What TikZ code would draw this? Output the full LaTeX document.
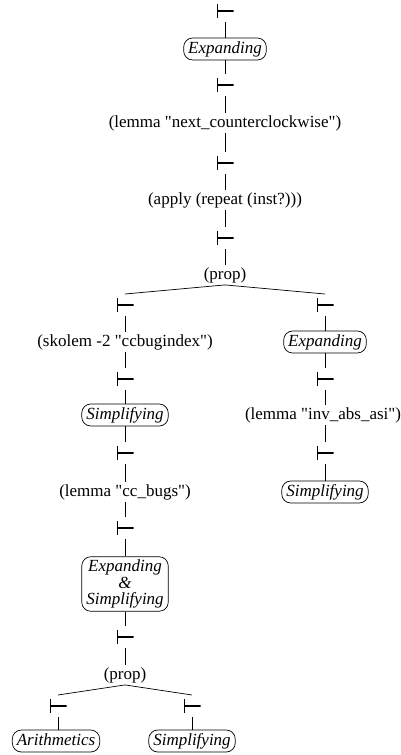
\documentclass[tikz,border=0pt]{standalone}
\usepackage{fontspec}
\newfontfamily\pvsfam{Liberation Serif}
\newcommand{\pvsfont}{\pvsfam\fontsize{17}{16.5}\selectfont}
\tikzset{
  turn/.style={minimum width=17pt,minimum height=14pt,inner sep=0pt,outer sep=4pt,
    path picture={\draw[line width=1.5pt]
      ([xshift=.75pt]path picture bounding box.north west) -- ([xshift=.75pt]path picture bounding box.south west)
      ([xshift=.75pt]path picture bounding box.west) -- (path picture bounding box.east);}},
  cmd/.style={inner sep=2pt,font=\pvsfont},
  strat/.style={draw,line width=.7pt,rounded corners=9pt,inner xsep=4.5pt,inner ysep=3pt,font=\pvsfont\itshape,align=center},
  stratl/.style={strat,text height=12pt,text depth=4pt}
}
\begin{document}
\begin{tikzpicture}[x=1pt,y=-1pt]
\useasboundingbox (0,0) rectangle (401,755);
\node[turn]   (t0)  at (225,11)  {};
\node[stratl] (e0)  at (225,49)  {Expanding};
\node[turn]   (t1)  at (225,85)  {};
\node[cmd]    (c1)  at (225,123) {(lemma "next\_counterclockwise")};
\node[turn]   (t2)  at (225,163) {};
\node[cmd]    (c2)  at (225,200) {(apply (repeat (inst?)))};
\node[turn]   (t3)  at (225,238) {};
\node[cmd]    (c3)  at (225,275) {(prop)};
\node[turn]   (t4)  at (125,305) {};
\node[cmd]    (c4)  at (125,342) {(skolem -2 "ccbugindex")};
\node[turn]   (t5)  at (125,379) {};
\node[stratl] (s1)  at (125,415) {Simplifying};
\node[turn]   (t6)  at (125,453) {};
\node[cmd]    (c5)  at (125,492) {(lemma "cc\_bugs")};
\node[turn]   (t7)  at (125,528) {};
\node[strat]  (es)  at (125,584) {Expanding\\\&\\Simplifying};
\node[turn]   (t8)  at (125,637) {};
\node[cmd]    (c6)  at (125,675) {(prop)};
\node[turn]   (t9)  at (58,706)  {};
\node[stratl] (ar)  at (56,741)  {Arithmetics};
\node[turn]   (t10) at (192,706) {};
\node[stratl] (s2)  at (192,741) {Simplifying};
\node[turn]   (t11) at (325,305) {};
\node[stratl] (e1)  at (325,342) {Expanding};
\node[turn]   (t12) at (325,379) {};
\node[cmd]    (c7)  at (323,415) {(lemma "inv\_abs\_asi")};
\node[turn]   (t13) at (325,453) {};
\node[stratl] (s3)  at (325,492) {Simplifying};
\path[line width=.7pt]
(t0) edge (e0) (e0) edge (t1) (t1) edge (c1) (c1) edge (t2) (t2) edge (c2) (c2) edge (t3) (t3) edge (c3)
(c3.south) edge (t4.north) edge (t11.north)
(t4) edge (c4) (c4) edge (t5) (t5) edge (s1) (s1) edge (t6) (t6) edge (c5) (c5) edge (t7) (t7) edge (es)
(es) edge (t8) (t8) edge (c6)
(c6.south) edge (t9.north) edge (t10.north)
(t9.south) edge (t9.south |- ar.north) (t10) edge (s2)
(t11) edge (e1) (e1) edge (t12)
(t12.south) edge (t12.south |- c7.north) (t13.north |- c7.south) edge (t13.north) (t13) edge (s3);
\end{tikzpicture}
\end{document}
